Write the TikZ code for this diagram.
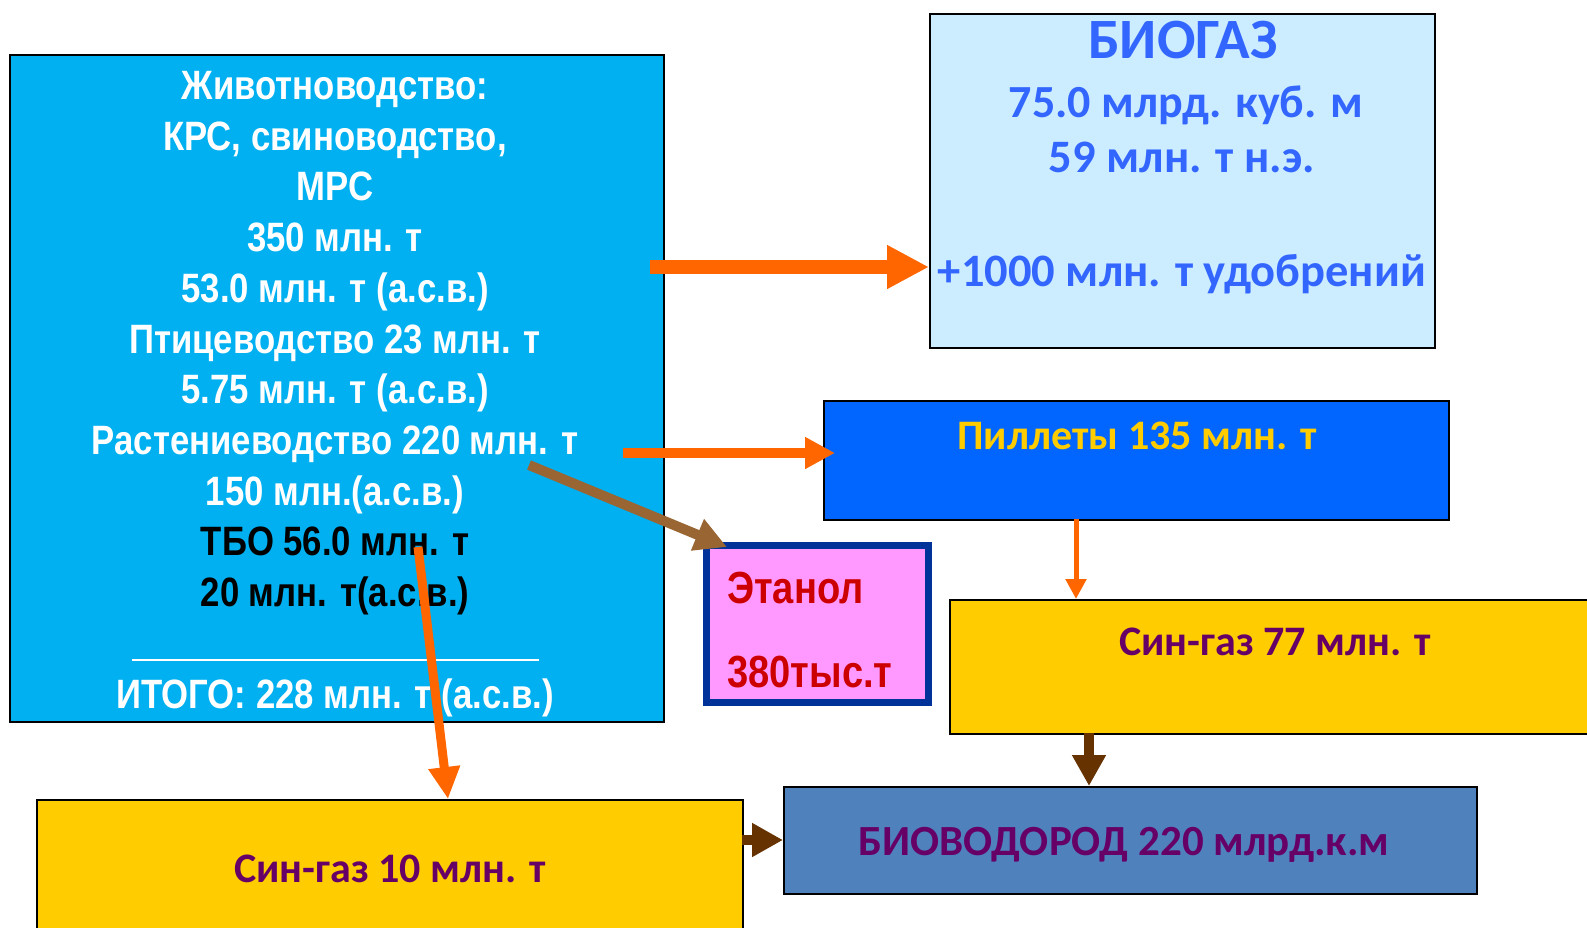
\documentclass[tikz,border=0pt]{standalone}
\usepackage{fontspec}
\setmainfont{Liberation Sans}
\newfontfamily\narrowfont[FakeStretch=0.847]{Liberation Sans}
\newfontfamily\calfont{Carlito}
\usetikzlibrary{arrows.meta}
\definecolor{lboxF}{HTML}{00B0F0}
\definecolor{bioF}{HTML}{CCECFF}
\definecolor{bioT}{HTML}{3366FF}
\definecolor{pillF}{HTML}{0066FF}
\definecolor{pillT}{HTML}{FFCC00}
\definecolor{ethF}{HTML}{FF99FF}
\definecolor{ethB}{HTML}{003399}
\definecolor{ethT}{HTML}{CC0000}
\definecolor{synF}{HTML}{FFCC00}
\definecolor{synT}{HTML}{660066}
\definecolor{biovF}{HTML}{4F81BD}
\definecolor{orangeA}{HTML}{FF6600}
\definecolor{brownA}{HTML}{996633}
\definecolor{dbrownA}{HTML}{663300}
\tikzset{
  boxst/.style={draw=black, line width=1.5pt, inner sep=0pt, anchor=north west},
  ltxt/.style={anchor=base, inner sep=0pt, text=white,
    font=\narrowfont\bfseries\fontsize{41}{41}\selectfont},
  ctxt/.style={anchor=base, inner sep=0pt,
    font=\calfont\bfseries\fontsize{#1}{#1}\selectfont},
  etxt/.style={anchor=base west, inner sep=0pt, text=ethT,
    font=\narrowfont\bfseries\fontsize{45}{45}\selectfont},
}
\begin{document}
\begin{tikzpicture}[x=1pt,y=-1pt]
\path[use as bounding box] (0,0) rectangle (1587,927);
\clip (0,0) rectangle (1587,927);
\fill[white] (0,0) rectangle (1587,927);

% boxes
\node[boxst, fill=lboxF, minimum width=654pt, minimum height=667pt] (src) at (9,54) {};
\node[boxst, fill=bioF, minimum width=505pt, minimum height=334pt] (bio) at (929,13) {};
\node[boxst, fill=pillF, minimum width=625pt, minimum height=119pt] (pill) at (823,400) {};
\node[draw=ethB, line width=7pt, fill=ethF, inner sep=0pt, minimum width=222pt, minimum height=157pt] (eth) at (817.5,624) {};
\node[boxst, fill=synF, minimum width=700pt, minimum height=134pt] (syn77) at (949,599) {};
\node[boxst, fill=biovF, minimum width=693pt, minimum height=107pt] (biov) at (783,786) {};
\node[boxst, fill=synF, minimum width=706pt, minimum height=200pt] (syn10) at (36,799) {};

% source box text
\node[ltxt] (l1) at (335,99) {Животноводство:};
\node[ltxt] (l2) at (335,150) {КРС, свиноводство,};
\node[ltxt] (l3) at (335,200) {МРС};
\node[ltxt] (l4) at (335,251) {350 млн. т};
\node[ltxt] (l5) at (335,302) {53.0 млн. т (а.с.в.)};
\node[ltxt] (l6) at (335,353) {Птицеводство 23 млн. т};
\node[ltxt] (l7) at (335,403) {5.75 млн. т (а.с.в.)};
\node[ltxt] (l8) at (335,454) {Растениеводство 220 млн. т};
\node[ltxt] (l9) at (335,505) {150 млн.(а.с.в.)};
\node[ltxt, text=black] (l10) at (335,555) {ТБО 56.0 млн. т};
\node[ltxt, text=black] (l11) at (335,606) {20 млн. т(а.с.в.)};
\coordinate (r1) at (132,660);
\coordinate (r2) at (539,660);
\draw[white, line width=1.5pt] (r1) -- (r2);
\node[ltxt] (l12) at (335,708) {ИТОГО: 228 млн. т (а.с.в.)};

% biogas text
\node[ctxt=57, text=bioT] (b1) at (1183,58.5) {БИОГАЗ};
\node[ctxt=46, text=bioT] (b2) at (1186,117.5) {75.0 млрд. куб. м};
\node[ctxt=46.5, text=bioT] (b3) at (1182,172.5) {59 млн. т н.э.};
\node[ctxt=46.5, text=bioT] (b4) at (1182,286) {+1000 млн. т удобрений};

% other texts
\node[ctxt=42, text=pillT] (p1) at (1137,449) {Пиллеты 135 млн. т};
\node[etxt] (e1) at (727,603) {Этанол};
\node[etxt] (e2) at (727,687) {380тыс.т};
\node[ctxt=42, text=synT] (s77) at (1275,655) {Син-газ 77 млн. т};
\node[ctxt=43, text=synT] (bv) at (1124,855) {БИОВОДОРОД 220 млрд.к.м};
\node[ctxt=42, text=synT] (s10) at (390,882) {Син-газ 10 млн. т};

% arrows
\coordinate (s1) at (650,267);
\draw[orangeA, line width=14pt, -{Triangle[length=42pt,width=41pt]}] (s1) -- (s1 -| bio.west);
\coordinate (s2) at (623,453);
\coordinate (t2) at (835,453);
\draw[orangeA, line width=10pt, -{Triangle[length=30pt,width=30pt]}] (s2) -- (t2);
\coordinate (s3) at (529,465);
\coordinate (t3) at (727,547);
\draw[brownA, line width=10pt, -{Triangle[length=32pt,width=32pt]}] (s3) -- (t3);
\coordinate (s4) at (418,547);
\draw[orangeA, line width=9pt, -{Triangle[length=32pt,width=30pt]}] (s4) -- (448,799);
\coordinate (s5) at (1076,519);
\draw[orangeA, line width=5pt, -{Triangle[length=20pt,width=20pt]}] (s5) -- (s5 |- syn77.north);
\coordinate (s6) at (1089,733);
\draw[dbrownA, line width=10pt, -{Triangle[length=31pt,width=32pt]}] (s6) -- (s6 |- biov.north);
\coordinate (s7) at (742,840);
\draw[dbrownA, line width=10pt, -{Triangle[length=31pt,width=32pt]}] (s7) -- (s7 -| biov.west);
\end{tikzpicture}
\end{document}
